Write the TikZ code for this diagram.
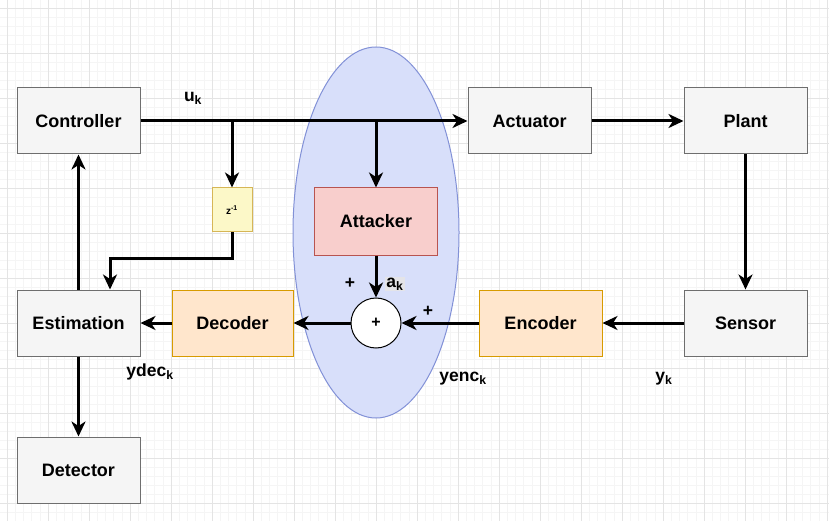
\documentclass[tikz,border=0pt]{standalone}
\usepackage{fontspec}
\setmainfont{Liberation Sans}
\usetikzlibrary{arrows.meta,shapes.geometric}
\definecolor{gridmaj}{RGB}{228,228,228}
\definecolor{gridmin}{RGB}{245,245,245}
\definecolor{boxfill}{RGB}{245,245,245}
\definecolor{boxline}{RGB}{110,110,110}
\definecolor{atkfill}{RGB}{248,206,204}
\definecolor{atkline}{RGB}{184,84,80}
\definecolor{codfill}{RGB}{255,230,204}
\definecolor{codline}{RGB}{215,155,0}
\definecolor{zfill}{RGB}{252,248,200}
\definecolor{zline}{RGB}{214,182,86}
\definecolor{ellfill}{RGB}{216,223,250}
\definecolor{ellline}{RGB}{130,145,215}
\definecolor{akbg}{RGB}{228,228,232}
\tikzset{
  blk/.style={draw=boxline, fill=boxfill, line width=1pt, minimum width=123pt, minimum height=66pt, inner sep=0pt, font=\fontsize{18}{21}\selectfont\bfseries, text=black},
  codblk/.style={blk, draw=codline, fill=codfill},
  atkblk/.style={blk, draw=atkline, fill=atkfill, minimum height=67pt},
  conn/.style={line width=3pt, -{Stealth[length=15pt,width=14pt,inset=4.5pt]}},
  lbl/.style={font=\fontsize{17.5}{20}\selectfont\bfseries, text=black, inner sep=1pt}
}
\begin{document}
\begin{tikzpicture}[x=1pt,y=-1pt]
\fill[white] (0,0) rectangle (829,521);
\useasboundingbox (0,0) rectangle (829,521);
% grid
\foreach \i in {0,...,105} {\draw[gridmin, line width=0.5pt] ({-1.2+8.2*\i},0) -- ++(0,521);}
\foreach \i in {0,...,60} {\draw[gridmin, line width=0.5pt] (0,{-1+9*\i}) -- ++(829,0);}
\foreach \i in {0,...,20} {\draw[gridmaj, line width=0.8pt] ({7+41*\i},0) -- ++(0,521);}
\foreach \i in {0,...,11} {\draw[gridmaj, line width=0.8pt] (0,{8+45*\i}) -- ++(829,0);}

% attack zone
\node[ellipse, draw=ellline, fill=ellfill, line width=1pt, minimum width=166pt, minimum height=371pt, inner sep=0pt] (zone) at (376,232.5) {};

% nodes
\node[blk] (ctrl) at (78.5,121) {Controller};
\node[blk] (act) at (529.5,121) {Actuator};
\node[blk] (plant) at (745.5,121) {Plant};
\node[atkblk] (attk) at (376,221.5) {Attacker};
\node[draw=zline, fill=zfill, line width=1pt, minimum width=40pt, minimum height=44pt, inner sep=0pt, font=\fontsize{10}{11}\selectfont\bfseries] (z) at (232,210) {z\textsuperscript{-1}};
\node[circle, draw=black, fill=white, line width=1pt, minimum size=50pt, inner sep=0pt, font=\fontsize{16}{18}\selectfont\bfseries] (sum) at (376,323) {+};
\node[blk] (est) at (78.5,323) {Estimation};
\node[codblk, minimum width=121pt] (dec) at (232.5,323) {Decoder};
\node[codblk] (enc) at (540.5,323) {Encoder};
\node[blk] (sens) at (745.5,323) {Sensor};
\node[blk] (det) at (78.5,470) {Detector};

% connectors
\draw[conn] (ctrl.east) -- (act.west);
\draw[conn] (z.north |- ctrl.east) -- (z.north);
\draw[conn] (attk.north |- ctrl.east) -- (attk.north);
\coordinate (zt) at (110,258);
\draw[conn] (z.south) |- (zt) -- (zt |- est.north);
\draw[conn] (act.east) -- (plant.west);
\draw[conn] (plant.south) -- (sens.north);
\draw[conn] (sens.west) -- (enc.east);
\draw[conn] (enc.west) -- (sum.east);
\draw[conn] (attk.south) -- (sum.north);
\draw[conn] (sum.west) -- (dec.east);
\draw[conn] (dec.west) -- (est.east);
\draw[conn] (est.north) -- (ctrl.south);
\draw[conn] (est.south) -- (det.north);

% labels
\node[lbl] (luk) at (193,98) {u\textsubscript{k}};
\node[lbl] (lp1) at (350,283) {+};
\node[lbl, fill=akbg] (lak) at (395,284) {a\textsubscript{k}};
\node[lbl] (lp2) at (428,311) {+};
\node[lbl] (lydec) at (150,372) {ydec\textsubscript{k}};
\node[lbl] (lyenc) at (463,379) {yenc\textsubscript{k}};
\node[lbl] (lyk) at (664,379) {y\textsubscript{k}};
\end{tikzpicture}
\end{document}
